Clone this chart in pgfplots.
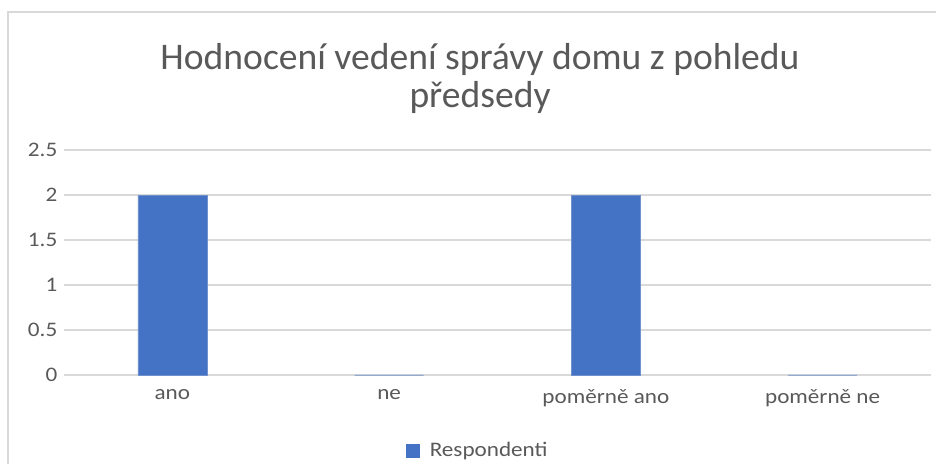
\documentclass[border=0pt]{standalone}
\usepackage{pgfplots}
\pgfplotsset{compat=1.18}
\usepackage{fontspec}
\setmainfont{Carlito}
\newfontfamily\widefont[FakeStretch=1.12]{Carlito}
\definecolor{barblue}{HTML}{4472C4}
\definecolor{txtgray}{HTML}{595959}
\definecolor{gridgray}{HTML}{D9D9D9}
\begin{document}
\begin{tikzpicture}
\begin{axis}[
  scale only axis, width=650.25pt, height=168.75pt,
  xmin=-0.5, xmax=3.5, ymin=0, ymax=2.5,
  ybar, bar width=51.75pt, bar shift=0pt,
  xtick={0,1,2,3},
  xticklabels={ano,ne,poměrně ano,poměrně ne},
  ytick={0,0.5,1,1.5,2,2.5},
  yticklabels={0,0.5,1,1.5,2,2.5},
  major tick length=0pt,
  axis line style={draw=none},
  ymajorgrids, grid style={gridgray, line width=1pt},
  ticklabel style={font=\widefont\fontsize{15.5}{18}\selectfont, text=txtgray},
  yticklabel style={xshift=-1.5pt},
  xticklabel style={yshift=-7pt},
  legend style={at={(0.4775,-0.3356)}, anchor=center, draw=none, fill=none,
    font=\widefont\fontsize{15.5}{18}\selectfont, text=txtgray},
  legend image code/.code={\fill[barblue, draw=none] (0pt,-5.25pt) rectangle (10.5pt,5.25pt); \path[draw=none, fill=none] (0pt,0pt) rectangle (16pt,0.1pt);},
  clip=false,
]
\addplot[fill=barblue, draw=barblue!70!gridgray, line width=0.4pt] coordinates {(0,2) (1,0) (2,2) (3,0)};
\addlegendentry{Respondenti}
\coordinate (TL) at (axis cs:-0.7953,4.1667);
\coordinate (BR) at (axis cs:3.5231,-0.9889);
\draw[gridgray, line width=1pt] (axis cs:-0.7584,-1.2) -- (axis cs:-0.7584,4.0333) -- (axis cs:3.7,4.0333);
\node[txtgray, font=\fontsize{28.2}{32}\selectfont, anchor=base] at (axis cs:1.4193,3.389) {Hodnocení vedení správy domu z pohledu};
\node[txtgray, font=\fontsize{28.2}{32}\selectfont, anchor=base] at (axis cs:1.4193,2.967) {předsedy};
\end{axis}
\pgfresetboundingbox
\path[use as bounding box] (TL) rectangle (BR);
\end{tikzpicture}
\end{document}
